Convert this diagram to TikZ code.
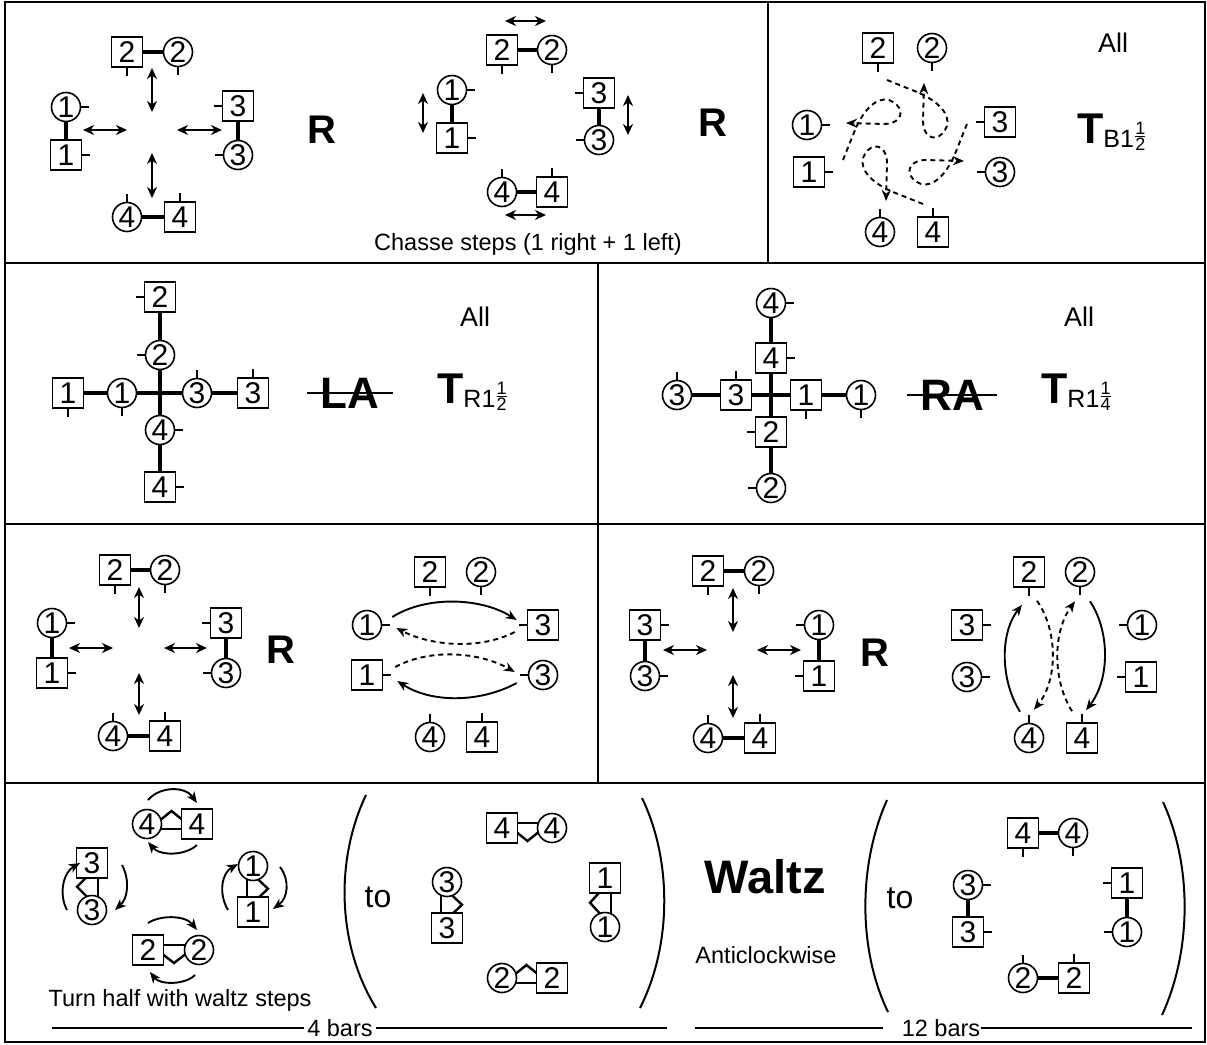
\documentclass[tikz,border=0pt]{standalone}
\usepackage{fontspec}
\setmainfont{Liberation Sans}
\usetikzlibrary{calc,positioning,arrows.meta,backgrounds}

\newcommand\numfont{\fontsize{30}{30}\selectfont}
\newcommand\facing[2]{\draw[facing] (#1.#2) -- ($(#1.#2)!-8pt!(#1.center)$);}
% waltz hold between a top and a bottom dancer: #3 = side of the bar (1 right, -1 left)
\newcommand\holdv[3]{%
  \begin{scope}[on background layer]
  \draw[hold] ($(#1.south)+({(#3)*6},-3)$) -- ($(#2.north)+({(#3)*6},3)$);
  \draw[hold] ($(#1.south)+({-(#3)*5},-2)$) -- ($(#1.south)!.5!(#2.north)+({-(#3)*15},0)$) -- ($(#2.north)+({-(#3)*5},2)$);
  \end{scope}}
% waltz hold between a left and a right dancer: #3 = side of the bar (1 below, -1 above)
\newcommand\holdh[3]{%
  \begin{scope}[on background layer]
  \draw[hold] ($(#1.east)+(-3,{(#3)*5})$) -- ($(#2.west)+(3,{(#3)*5})$);
  \draw[hold] ($(#1.east)+(-2,{-(#3)*4})$) -- ($(#1.east)!.5!(#2.west)+(0,{-(#3)*13})$) -- ($(#2.west)+(2,{-(#3)*4})$);
  \end{scope}}
\newcommand\smallfrac[2]{\raisebox{6pt}{\fontsize{18}{18}\selectfont${\hbox{#1}\above1pt\hbox{#2}}$}}
\newcommand\turnsign[3]{{\fontsize{43}{43}\selectfont\bfseries T}\raisebox{-4pt}{\fontsize{25}{25}\selectfont#1\smallfrac{#2}{#3}}}

\tikzset{
  man/.style={draw, line width=1.6pt, fill=white, minimum width=31pt, minimum height=30pt, inner sep=0pt, font=\numfont},
  lady/.style={draw, line width=1.6pt, fill=white, circle, minimum size=29pt, inner sep=0pt, font=\numfont},
  link/.style={line width=3.2pt},
  hold/.style={line width=2.4pt, line join=miter},
  facing/.style={line width=1.5pt},
  chasse/.style={line width=2pt, {Stealth[length=11pt,width=10pt,inset=3.5pt]}-{Stealth[length=11pt,width=10pt,inset=3.5pt]}},
  track/.style={line width=1.9pt, -{Stealth[length=11pt,width=9pt,inset=3.5pt]}},
  loopy/.style={track, dash pattern=on 5pt off 4pt},
  twirl/.style={line width=1.9pt, -{Stealth[length=11pt,width=9pt,inset=3pt]}},
  panel/.style={line width=1.5pt},
  brace/.style={line width=2pt},
  words/.style={font=\fontsize{23.5}{28}\selectfont},
  allword/.style={font=\fontsize{27}{30}\selectfont},
  bigcall/.style={font=\fontsize{40}{40}\selectfont\bfseries},
  struck/.style={font=\fontsize{44}{44}\selectfont\bfseries, inner sep=0pt},
}

\begin{document}
\begin{tikzpicture}[x=1pt,y=-1pt]
\useasboundingbox (0,0) rectangle (1207,1044);
\draw[panel] (5,2) rectangle (1205,1042);
\draw[line width=2.8pt] (5,2) -- (1205,2);
\draw[panel] (768,2) -- (768,263);
\draw[panel] (5,263) -- (1205,263) (5,524) -- (1205,524) (5,783) -- (1205,783);
\draw[panel] (598,263) -- (598,783);

% row 1, forward and back
\node[man]  (aM2) at (127,52)  {2};
\node[lady] (aL2) at (178,52)  {2};
\node[lady] (aL1) at (66,107)  {1};
\node[man]  (aM1) at (66,155)  {1};
\node[man]  (aM3) at (238,106) {3};
\node[lady] (aL3) at (238,155) {3};
\node[lady] (aL4) at (127,217) {4};
\node[man]  (aM4) at (180,217) {4};
\draw[link] (aM2) -- (aL2);
\draw[link] (aL1) -- (aM1);
\draw[link] (aM3) -- (aL3);
\draw[link] (aL4) -- (aM4);
\foreach \who/\way in {aM2/south,aL2/south,aL1/east,aM1/east,aM3/west,aL3/west,aL4/north,aM4/north}
  \facing{\who}{\way};
\draw[chasse] (152,68) -- (152,112);
\draw[chasse] (83,130) -- (127,130);
\draw[chasse] (177,130) -- (222,130);
\draw[chasse] (152,153) -- (152,198);
\node[bigcall] (aR) at (322,130) {R};

% row 1, chasse
\node[man]  (bM2) at (502,50)  {2};
\node[lady] (bL2) at (552,50)  {2};
\node[lady] (bL1) at (452,90)  {1};
\node[man]  (bM1) at (452,138) {1};
\node[man]  (bM3) at (599,93)  {3};
\node[lady] (bL3) at (599,140) {3};
\node[lady] (bL4) at (502,192) {4};
\node[man]  (bM4) at (552,192) {4};
\draw[link] (bM2) -- (bL2);
\draw[link] (bL1) -- (bM1);
\draw[link] (bM3) -- (bL3);
\draw[link] (bL4) -- (bM4);
\foreach \who/\way in {bM2/south,bL2/south,bL1/east,bM1/east,bM3/west,bL3/west,bL4/north,bM4/north}
  \facing{\who}{\way};
\draw[chasse] (505,21) -- (546,21);
\draw[chasse] (423,93) -- (423,133);
\draw[chasse] (628,95) -- (628,135);
\draw[chasse] (505,215) -- (546,215);
\node[words] (bNote) at (528,244) {Chasse steps (1 right + 1 left)};
\node[bigcall] (bR) at (713,123) {R};

% row 1, turn back
\node[man]  (cM2) at (878,48)   {2};
\node[lady] (cL2) at (932,48)   {2};
\node[lady] (cL1) at (807,125)  {1};
\node[man]  (cM1) at (809,172)  {1};
\node[man]  (cM3) at (1000,122) {3};
\node[lady] (cL3) at (1000,172) {3};
\node[lady] (cL4) at (880,232)  {4};
\node[man]  (cM4) at (933,232)  {4};
\foreach \who/\way in {cM2/south,cL2/south,cL1/east,cM1/east,cM3/west,cL3/west,cL4/north,cM4/north}
  \facing{\who}{\way};
\foreach \ang in {0,90,180,270}
  \draw[loopy, rotate around={\ang:(905,142)}] (887,80) -- (917,92) .. controls (945,104) and (952,120) .. (945,130)
    .. controls (938,142) and (924,140) .. (923,122) -- (924,83);
\node[allword] (cAll) at (1113,43) {All};
\node[anchor=base west, inner sep=0pt] (cT) at (1077,143) {\turnsign{B1}{1}{2}};

% row 2, left allemande
\node[man]  (dM2) at (160,297) {2};
\node[lady] (dL2) at (160,355) {2};
\node[man]  (dM1) at (68,393)  {1};
\node[lady] (dL1) at (122,393) {1};
\node[lady] (dL3) at (197,393) {3};
\node[man]  (dM3) at (253,393) {3};
\node[lady] (dL4) at (160,430) {4};
\node[man]  (dM4) at (160,487) {4};
\draw[link] (dM1) -- (dL1) (dL1) -- (dL3) (dL3) -- (dM3);
\draw[link] (dM2) -- (dL2) (dL2) -- (dL4) (dL4) -- (dM4);
\foreach \who/\way in {dM2/west,dL2/west,dM1/south,dL1/south,dL3/north,dM3/north,dL4/east,dM4/east}
  \facing{\who}{\way};
\node[struck] (dLA) at (350,393) {LA};
\draw[line width=1.5pt] ($(dLA.west)+(-13,0)$) -- ($(dLA.east)+(13,0)$);
\node[allword] (dAll) at (475,317) {All};
\node[anchor=base west, inner sep=0pt] (dT) at (437,403) {\turnsign{R1}{1}{2}};

% row 2, right allemande
\node[lady] (eL4) at (771,303) {4};
\node[man]  (eM4) at (771,358) {4};
\node[lady] (eL3) at (677,395) {3};
\node[man]  (eM3) at (736,395) {3};
\node[man]  (eM1) at (806,395) {1};
\node[lady] (eL1) at (861,395) {1};
\node[man]  (eM2) at (771,432) {2};
\node[lady] (eL2) at (771,488) {2};
\draw[link] (eL3) -- (eM3) (eM3) -- (eM1) (eM1) -- (eL1);
\draw[link] (eL4) -- (eM4) (eM4) -- (eM2) (eM2) -- (eL2);
\foreach \who/\way in {eL4/east,eM4/east,eL3/north,eM3/north,eM1/south,eL1/south,eM2/west,eL2/west}
  \facing{\who}{\way};
\node[struck] (eRA) at (952,395) {RA};
\draw[line width=1.5pt] ($(eRA.west)+(-13,0)$) -- ($(eRA.east)+(13,0)$);
\node[allword] (eAll) at (1079,317) {All};
\node[anchor=base west, inner sep=0pt] (eT) at (1041,403) {\turnsign{R1}{1}{4}};

% row 3, left
\node[man]  (fM2) at (115,570) {2};
\node[lady] (fL2) at (165,570) {2};
\node[lady] (fL1) at (52,623)  {1};
\node[man]  (fM1) at (52,673)  {1};
\node[man]  (fM3) at (226,623) {3};
\node[lady] (fL3) at (226,673) {3};
\node[lady] (fL4) at (113,736) {4};
\node[man]  (fM4) at (165,736) {4};
\draw[link] (fM2) -- (fL2);
\draw[link] (fL1) -- (fM1);
\draw[link] (fM3) -- (fL3);
\draw[link] (fL4) -- (fM4);
\foreach \who/\way in {fM2/south,fL2/south,fL1/east,fM1/east,fM3/west,fL3/west,fL4/north,fM4/north}
  \facing{\who}{\way};
\draw[chasse] (139,587) -- (139,628);
\draw[chasse] (69,648) -- (113,648);
\draw[chasse] (164,648) -- (207,648);
\draw[chasse] (139,673) -- (139,715);
\node[bigcall] (fR) at (281,650) {R};

\node[man]  (gM2) at (430,572) {2};
\node[lady] (gL2) at (481,572) {2};
\node[lady] (gL1) at (367,625) {1};
\node[man]  (gM3) at (543,625) {3};
\node[man]  (gM1) at (367,675) {1};
\node[lady] (gL3) at (543,675) {3};
\node[lady] (gL4) at (430,737) {4};
\node[man]  (gM4) at (482,737) {4};
\foreach \who/\way in {gM2/south,gL2/south,gL1/east,gM1/east,gM3/west,gL3/west,gL4/north,gM4/north}
  \facing{\who}{\way};
\draw[track] ($(gL1.east)+(10,-8)$) .. controls +(35,-22) and +(-35,-22) .. ($(gM3.west)+(-10,-5)$);
\draw[loopy] ($(gM3.west)+(-12,7)$) .. controls +(-35,18) and +(35,18) .. ($(gL1.east)+(14,3)$);
\draw[loopy] ($(gM1.east)+(12,-8)$) .. controls +(35,-19) and +(-35,-20) .. ($(gL3.west)+(-13,-3)$);
\draw[track] ($(gL3.west)+(-11,8)$) .. controls +(-37,20) and +(34,22) .. ($(gM1.east)+(14,6)$);

% row 3, right
\node[man]  (hM2) at (708,571) {2};
\node[lady] (hL2) at (759,571) {2};
\node[man]  (hM3) at (645,625) {3};
\node[lady] (hL3) at (645,676) {3};
\node[lady] (hL1) at (819,625) {1};
\node[man]  (hM1) at (819,676) {1};
\node[lady] (hL4) at (708,738) {4};
\node[man]  (hM4) at (760,738) {4};
\draw[link] (hM2) -- (hL2);
\draw[link] (hM3) -- (hL3);
\draw[link] (hL1) -- (hM1);
\draw[link] (hL4) -- (hM4);
\foreach \who/\way in {hM2/south,hL2/south,hM3/east,hL3/east,hL1/west,hM1/west,hL4/north,hM4/north}
  \facing{\who}{\way};
\draw[chasse] (733,588) -- (733,632);
\draw[chasse] (663,650) -- (707,650);
\draw[chasse] (757,650) -- (801,650);
\draw[chasse] (733,675) -- (733,718);
\node[bigcall] (hR) at (875,653) {R};

\node[man]  (iM2) at (1029,572) {2};
\node[lady] (iL2) at (1080,572) {2};
\node[man]  (iM3) at (967,625)  {3};
\node[lady] (iL3) at (967,677)  {3};
\node[lady] (iL1) at (1142,625) {1};
\node[man]  (iM1) at (1141,677) {1};
\node[lady] (iL4) at (1029,738) {4};
\node[man]  (iM4) at (1082,738) {4};
\foreach \who/\way in {iM2/south,iL2/south,iM3/east,iL3/east,iL1/west,iM1/west,iL4/north,iM4/north}
  \facing{\who}{\way};
\draw[track] ($(iL4.north)+(-9,-11)$) .. controls +(-20,-32) and +(-22,28) .. ($(iM2.south)+(-7,17)$);
\draw[loopy] ($(iM2.south)+(8,13)$) .. controls +(21,30) and +(24,-30) .. ($(iL4.north)+(5,-13)$);
\draw[loopy] ($(iM4.north)+(-10,-11)$) .. controls +(-20,-32) and +(-22,30) .. ($(iL2.south)+(-5,14)$);
\draw[track] ($(iL2.south)+(10,14)$) .. controls +(20,30) and +(24,-31) .. ($(iM4.north)+(4,-12)$);

% row 4, waltz
\node[man]  (jM3) at (92,863)  {3};
\node[lady] (jL3) at (92,910)  {3};
\node[lady] (jL1) at (253,866) {1};
\node[man]  (jM1) at (253,912) {1};
\node[lady] (jL4) at (147,824) {4};
\node[man]  (jM4) at (197,824) {4};
\node[man]  (jM2) at (148,950) {2};
\node[lady] (jL2) at (199,950) {2};
\holdv{jM3}{jL3}{1}
\holdv{jL1}{jM1}{-1}
\holdh{jL4}{jM4}{1}
\holdh{jM2}{jL2}{-1}
\draw[twirl] (67,910) .. controls (58,893) and (64,872) .. (80,863);
\draw[twirl] (122,865) .. controls (130,880) and (128,898) .. (115,910);
\draw[twirl] (228,910) .. controls (218,893) and (222,873) .. (238,864);
\draw[twirl] (280,867) .. controls (290,880) and (288,898) .. (273,909);
\draw[twirl] (148,800) .. controls (160,786) and (185,786) .. (197,803);
\draw[twirl] (197,845) .. controls (185,856) and (160,856) .. (148,842);
\draw[twirl] (148,923) .. controls (160,915) and (185,915) .. (197,930);
\draw[twirl] (195,975) .. controls (185,985) and (160,985) .. (150,972);
\node[words] (jNote) at (180,1000) {Turn half with waltz steps};
\draw[brace] (366,795) .. controls (335,860) and (337,945) .. (376,1008);
\node[font=\fontsize{32}{32}\selectfont] (jTo) at (378,897) {to};

\node[man]  (kM4) at (502,828) {4};
\node[lady] (kL4) at (552,828) {4};
\node[lady] (kL3) at (447,882) {3};
\node[man]  (kM3) at (447,928) {3};
\node[man]  (kM1) at (605,878) {1};
\node[lady] (kL1) at (605,927) {1};
\node[lady] (kL2) at (502,978) {2};
\node[man]  (kM2) at (552,978) {2};
\holdh{kM4}{kL4}{-1}
\holdv{kL3}{kM3}{-1}
\holdv{kM1}{kL1}{1}
\holdh{kL2}{kM2}{1}
\draw[brace] (642,798) .. controls (672,860) and (672,945) .. (640,1008);
\node[words] (bars4) at (340,1028) {4 bars};
\draw[panel] (52,1028) -- (bars4.west);
\draw[panel] (bars4.east) -- (667,1028);

\node[font=\fontsize{47}{47}\selectfont\bfseries] (waltz) at (765,877) {Waltz};
\node[words] (anti) at (766,955) {Anticlockwise};

\draw[brace] (887,800) .. controls (858,865) and (858,950) .. (888,1012);
\node[font=\fontsize{32}{32}\selectfont] (lTo) at (900,898) {to};
\node[man]  (lM4) at (1023,833) {4};
\node[lady] (lL4) at (1073,833) {4};
\node[lady] (lL3) at (968,885)  {3};
\node[man]  (lM3) at (968,932)  {3};
\node[man]  (lM1) at (1127,883) {1};
\node[lady] (lL1) at (1127,932) {1};
\node[lady] (lL2) at (1023,978) {2};
\node[man]  (lM2) at (1074,978) {2};
\draw[link] (lM4) -- (lL4);
\draw[link] (lL3) -- (lM3);
\draw[link] (lM1) -- (lL1);
\draw[link] (lL2) -- (lM2);
\foreach \who/\way in {lM4/south,lL4/south,lL3/east,lM3/east,lM1/west,lL1/west,lL2/north,lM2/north}
  \facing{\who}{\way};
\draw[brace] (1163,802) .. controls (1192,865) and (1192,950) .. (1162,1015);
\node[words, inner sep=1pt] (bars12) at (941,1028) {12 bars};
\draw[panel] (695,1028) -- (883,1028);
\draw[panel] (bars12.east) -- (1192,1028);
\end{tikzpicture}
\end{document}
